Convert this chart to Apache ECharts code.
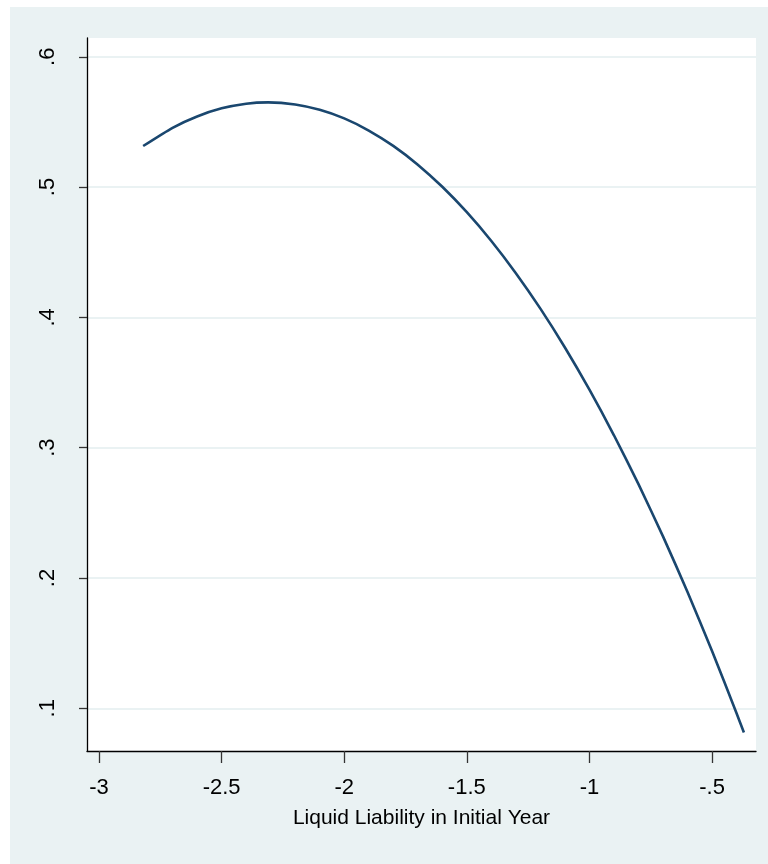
<!DOCTYPE html>
<html>
<head>
<meta charset="utf-8">
<script src="https://cdn.jsdelivr.net/npm/echarts@6/dist/echarts.min.js"></script>
<style>
  html, body { margin: 0; padding: 0; background: #ffffff; }
  #chart { position: absolute; left: 10px; top: 7px; width: 758px; height: 857px; }
</style>
</head>
<body>
<div id="chart"></div>
<script>
// Data
const xValues = [-2.82, -2.7, -2.6, -2.5, -2.4, -2.31, -2.2, -2.1, -2.0, -1.9, -1.8, -1.7, -1.6,
                 -1.5, -1.4, -1.3, -1.2, -1.1, -1.0, -0.9, -0.8, -0.7, -0.6, -0.5, -0.4, -0.37];
const yValues = [0.5315, 0.5455, 0.5542, 0.5604, 0.5640, 0.5650, 0.5634, 0.5593, 0.5527, 0.5434,
                 0.5316, 0.5172, 0.5002, 0.4807, 0.4586, 0.4339, 0.4067, 0.3769, 0.3445, 0.3095,
                 0.2720, 0.2319, 0.1893, 0.1440, 0.0962, 0.0814];
const xTicks = [-3, -2.5, -2, -1.5, -1, -0.5];
const xTickLabels = ['-3', '-2.5', '-2', '-1.5', '-1', '-.5'];
const yTicks = [0.1, 0.2, 0.3, 0.4, 0.5, 0.6];
const yTickLabels = ['.1', '.2', '.3', '.4', '.5', '.6'];
const xTitle = 'Liquid Liability in Initial Year';

const FONT = "'Liberation Sans Narrow', 'Arial Narrow', 'Liberation Sans', Arial, sans-serif";
const chart = echarts.init(document.getElementById('chart'), null, { renderer: 'canvas' });

function labelFor(v, ticks, labels) {
  for (let i = 0; i < ticks.length; i++) {
    if (Math.abs(ticks[i] - v) < 1e-6) return labels[i];
  }
  return '';
}

chart.setOption({
  backgroundColor: '#EAF2F3',
  animation: false,
  grid: {
    left: 77, top: 31, right: 12, bottom: 113,
    show: true, backgroundColor: '#ffffff', borderWidth: 0
  },
  xAxis: {
    type: 'value',
    min: -3.049, max: -0.3207,
    name: xTitle,
    nameLocation: 'middle',
    nameGap: 57,
    nameTextStyle: { fontFamily: FONT, fontSize: 21, color: '#000' },
    axisLine: { show: true, onZero: false, lineStyle: { color: '#000', width: 1.3 } },
    axisTick: { show: true, length: 12, customValues: xTicks, lineStyle: { color: '#333', width: 1.3 } },
    axisLabel: {
      customValues: xTicks, margin: 26,
      fontFamily: FONT, fontSize: 22, color: '#000',
      formatter: v => labelFor(v, xTicks, xTickLabels)
    },
    splitLine: { show: false }
  },
  yAxis: {
    type: 'value',
    min: 0.0672, max: 0.6144,
    axisLine: { show: true, onZero: false, lineStyle: { color: '#000', width: 1.3 } },
    axisTick: { show: true, length: 8, customValues: yTicks, lineStyle: { color: '#333', width: 1.3 } },
    axisLabel: {
      customValues: yTicks, rotate: 90, margin: 28,
      fontFamily: FONT, fontSize: 22, color: '#000',
      formatter: v => labelFor(v, yTicks, yTickLabels)
    },
    splitLine: { show: true, lineStyle: { color: '#EAF2F3', width: 2 } }
  },
  series: [{
    type: 'line',
    data: xValues.map((x, i) => [x, yValues[i]]),
    showSymbol: false,
    smooth: 0.2,
    lineStyle: { color: '#1A476F', width: 2.6 },
    itemStyle: { color: '#1A476F' }
  }]
});
</script>
</body>
</html>
